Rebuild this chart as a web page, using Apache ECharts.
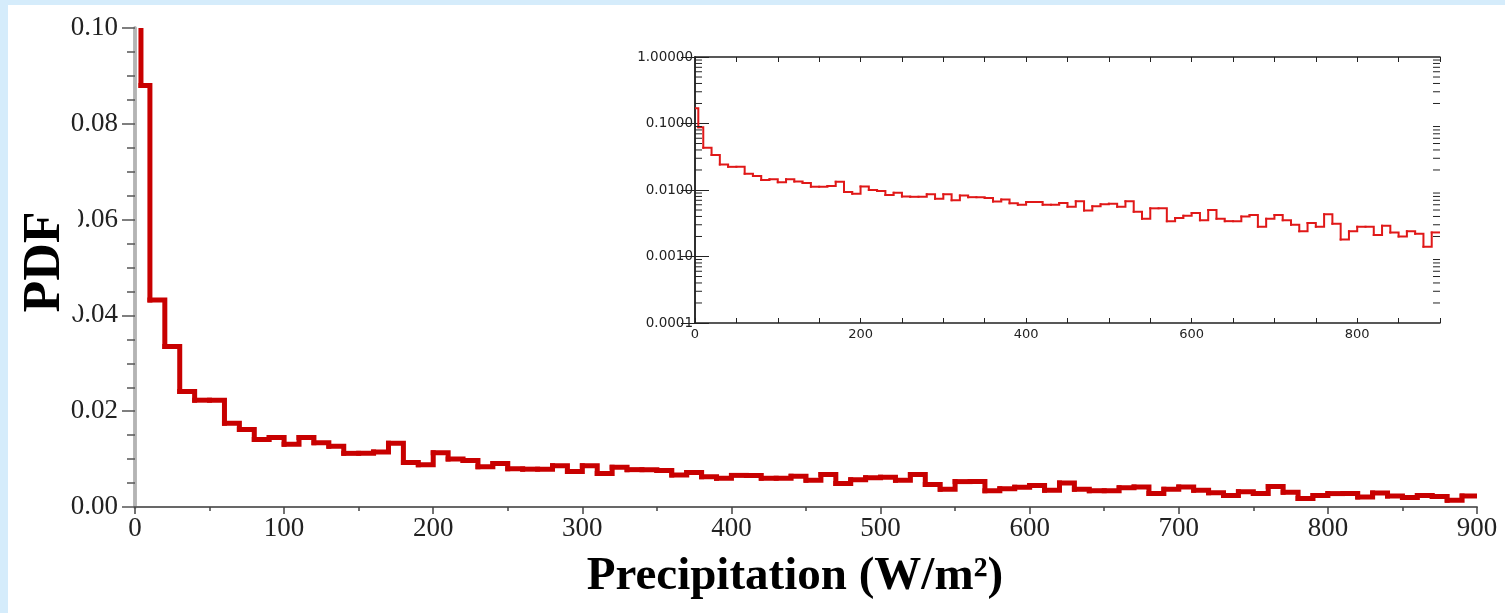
<!DOCTYPE html>
<html>
<head>
<meta charset="utf-8">
<title>PDF of precipitation</title>
<script src="https://cdn.jsdelivr.net/npm/echarts@6/dist/echarts.min.js"></script>
<style>
    html, body { margin: 0; padding: 0; background: #fff; }
    #main { width: 1505px; height: 613px; }
</style>
</head>
<body>
<div id="main"></div>
<script>
// bin left edges (W/m2), last bin ends at 900
var binStart = [0, 4, 10, 20, 30, 40, 50, 60, 70, 80, 90,
    100, 110, 120, 130, 140, 150, 160, 170, 180, 190,
    200, 210, 220, 230, 240, 250, 260, 270, 280, 290,
    300, 310, 320, 330, 340, 350, 360, 370, 380, 390,
    400, 410, 420, 430, 440, 450, 460, 470, 480, 490,
    500, 510, 520, 530, 540, 550, 560, 570, 580, 590,
    600, 610, 620, 630, 640, 650, 660, 670, 680, 690,
    700, 710, 720, 730, 740, 750, 760, 770, 780, 790,
    800, 810, 820, 830, 840, 850, 860, 870, 880, 890]
var binEnd = 900

// PDF value for each bin
var pdf = [0.17, 0.088, 0.0432, 0.0335, 0.0241, 0.0223, 0.0223, 0.0175, 0.0162, 0.0141, 0.0145,
    0.0131, 0.0145, 0.0134, 0.0127, 0.0112, 0.0112, 0.0115, 0.0133, 0.0093, 0.0088,
    0.0113, 0.0100, 0.0097, 0.0084, 0.0091, 0.0080, 0.0079, 0.0079, 0.0086, 0.0074,
    0.0086, 0.0070, 0.0083, 0.0078, 0.0078, 0.0076, 0.0067, 0.0072, 0.0063, 0.0060,
    0.0066, 0.0066, 0.0060, 0.0060, 0.0064, 0.0056, 0.0068, 0.0049, 0.0057, 0.0061,
    0.0062, 0.0056, 0.0068, 0.0047, 0.0037, 0.0053, 0.0053, 0.0034, 0.0038, 0.0041,
    0.0045, 0.0035, 0.0050, 0.0037, 0.0034, 0.0034, 0.0040, 0.0042, 0.0028, 0.0037,
    0.0042, 0.0035, 0.0030, 0.0024, 0.0032, 0.0028, 0.0043, 0.0031, 0.0018, 0.0024,
    0.0028, 0.0028, 0.0021, 0.0029, 0.0023, 0.0020, 0.0024, 0.0022, 0.0014, 0.0023]

// tick labels
var mainYLabels = ['0.00', '0.02', '0.04', '0.06', '0.08', '0.10']
var insetYLabels = ['0.0001', '0.0010', '0.0100', '0.1000', '1.00000']
var logDecades = [0.0001, 0.001, 0.01, 0.1]
var logSteps = [2, 3, 4, 5, 6, 7, 8, 9]

// one item per bin: [start, end, value, next value]
var bins = binStart.map(function(x, i) {
    var last = i === binStart.length - 1
    return [x, last ? binEnd : binStart[i + 1], pdf[i], last ? pdf[i] : pdf[i + 1]]
})

var minorLog = []
logDecades.forEach(function(d) {
    logSteps.forEach(function(s) {
        minorLog.push([0, d * s])
    })
})

var serif = '"Liberation Serif", "Times New Roman", serif'
var sans = '"DejaVu Sans", sans-serif'

// histogram outline: top of the bin, then the riser to the next bin
function stepRender(color, width) {
    return function(params, api) {
        var pts = [
            api.coord([api.value(0), api.value(2)]),
            api.coord([api.value(1), api.value(2)]),
            api.coord([api.value(1), api.value(3)])
        ]
        return {
            type: 'polyline',
            shape: { points: pts },
            style: { stroke: color, lineWidth: width, fill: null, lineJoin: 'miter', lineCap: 'square' }
        }
    }
}

var option = {
    backgroundColor: '#fff',
    animation: false,
    grid: [
        { left: 135, right: 28, top: 28, bottom: 106 },
        { left: 695, right: 65, top: 57, bottom: 290 }
    ],
    xAxis: [
        {
            gridIndex: 0, type: 'value', min: 0, max: 900, interval: 100,
            axisLine: { lineStyle: { color: '#444', width: 1.5 } },
            axisTick: { length: 7, lineStyle: { color: '#444', width: 1.5 } },
            minorTick: { show: true, splitNumber: 2, length: 4, lineStyle: { color: '#444', width: 1.5 } },
            axisLabel: { color: '#222', fontFamily: serif, fontSize: 27, margin: 8 },
            splitLine: { show: false }
        },
        {
            gridIndex: 0, type: 'value', position: 'top', min: 0, max: 900,
            axisLine: { show: true, lineStyle: { color: '#666', width: 1.5 } },
            axisTick: { show: false }, axisLabel: { show: false }, splitLine: { show: false }
        },
        {
            gridIndex: 1, type: 'value', min: 0, max: 900, interval: 50,
            axisLine: { lineStyle: { color: '#222', width: 1.5 } },
            axisTick: { inside: true, length: 5, lineStyle: { color: '#222' } },
            axisLabel: {
                color: '#222', fontFamily: sans, fontSize: 13, margin: 5,
                formatter: function(v) { return (v % 200 === 0) ? String(v) : '' }
            },
            splitLine: { show: false }
        },
        {
            gridIndex: 1, type: 'value', position: 'top', min: 0, max: 900, interval: 50,
            axisLine: { show: true, lineStyle: { color: '#222', width: 1.5 } },
            axisTick: { inside: true, length: 5, lineStyle: { color: '#222' } },
            axisLabel: { show: false }, splitLine: { show: false }
        }
    ],
    yAxis: [
        {
            gridIndex: 0, type: 'value', min: 0, max: 0.1, interval: 0.02,
            axisLine: { show: true, lineStyle: { color: '#b4b4b4', width: 3.5 } },
            axisTick: { show: true, length: 13, lineStyle: { color: '#555', width: 1.5 } },
            minorTick: { show: true, splitNumber: 4, length: 8, lineStyle: { color: '#555', width: 1.5 } },
            axisLabel: {
                color: '#222', fontFamily: serif, fontSize: 27, margin: 17,
                formatter: function(v) { return mainYLabels[Math.round(v / 0.02)] }
            },
            splitLine: { show: false }
        },
        {
            gridIndex: 0, type: 'value', position: 'right', min: 0, max: 0.1,
            axisLine: { show: true, lineStyle: { color: '#b4b4b4', width: 3.5 } },
            axisTick: { show: false }, axisLabel: { show: false }, splitLine: { show: false }
        },
        {
            gridIndex: 1, type: 'log', logBase: 10, min: 0.0001, max: 1,
            axisLine: { show: true, lineStyle: { color: '#222', width: 1.5 } },
            axisTick: { inside: true, length: 14, lineStyle: { color: '#222' } },
            axisLabel: {
                color: '#222', fontFamily: sans, fontSize: 13.5, margin: 2,
                formatter: function(v) { return insetYLabels[Math.round(Math.log10(v)) + 4] }
            },
            splitLine: { show: false }
        },
        {
            gridIndex: 1, type: 'log', logBase: 10, position: 'right', min: 0.0001, max: 1,
            axisLine: { show: true, lineStyle: { color: '#222', width: 1.5 } },
            axisTick: { inside: true, length: 14, lineStyle: { color: '#222' } },
            axisLabel: { show: false }, splitLine: { show: false }
        }
    ],
    series: [
        {
            name: 'PDF',
            type: 'custom',
            xAxisIndex: 0, yAxisIndex: 0,
            encode: { x: [0, 1], y: [2, 3] },
            clip: true,
            silent: true,
            renderItem: stepRender('#c80000', 5),
            data: bins
        },
        {
            name: 'PDF log',
            type: 'custom',
            xAxisIndex: 2, yAxisIndex: 2,
            encode: { x: [0, 1], y: [2, 3] },
            clip: true,
            silent: true,
            renderItem: stepRender('#e01818', 2),
            data: bins
        },
        {
            // minor log ticks 2..9 of each decade, on both inset sides
            type: 'custom',
            xAxisIndex: 2, yAxisIndex: 2,
            silent: true,
            data: minorLog,
            renderItem: function(params, api) {
                var y = api.coord([0, api.value(1)])[1]
                var cs = params.coordSys
                var st = { stroke: '#222', lineWidth: 1 }
                return {
                    type: 'group',
                    children: [
                        { type: 'line', shape: { x1: cs.x, y1: y, x2: cs.x + 7, y2: y }, style: st },
                        { type: 'line', shape: { x1: cs.x + cs.width - 7, y1: y, x2: cs.x + cs.width, y2: y }, style: st }
                    ]
                }
            }
        }
    ],
    graphic: [
        { type: 'rect', left: 0, top: 0, shape: { width: 1505, height: 5 }, style: { fill: '#d5ecfb' } },
        { type: 'rect', left: 0, top: 0, shape: { width: 8, height: 613 }, style: { fill: '#d5ecfb' } },
        {
            type: 'text', x: 46, y: 262, rotation: Math.PI / 2, z: 100,
            style: {
                text: 'PDF', fill: '#000', font: 'bold 52px ' + serif,
                align: 'center', verticalAlign: 'middle',
                backgroundColor: '#fff', padding: [6, 4]
            }
        },
        {
            type: 'text', x: 795, y: 577, z: 100,
            style: {
                text: 'Precipitation (W/m²)', fill: '#000', font: 'bold 47px ' + serif,
                align: 'center', verticalAlign: 'middle'
            }
        }
    ]
}

var myChart = echarts.init(document.getElementById('main'))
myChart.setOption(option)
window.addEventListener('resize', function() {
    myChart.resize()
})
</script>
</body>
</html>
